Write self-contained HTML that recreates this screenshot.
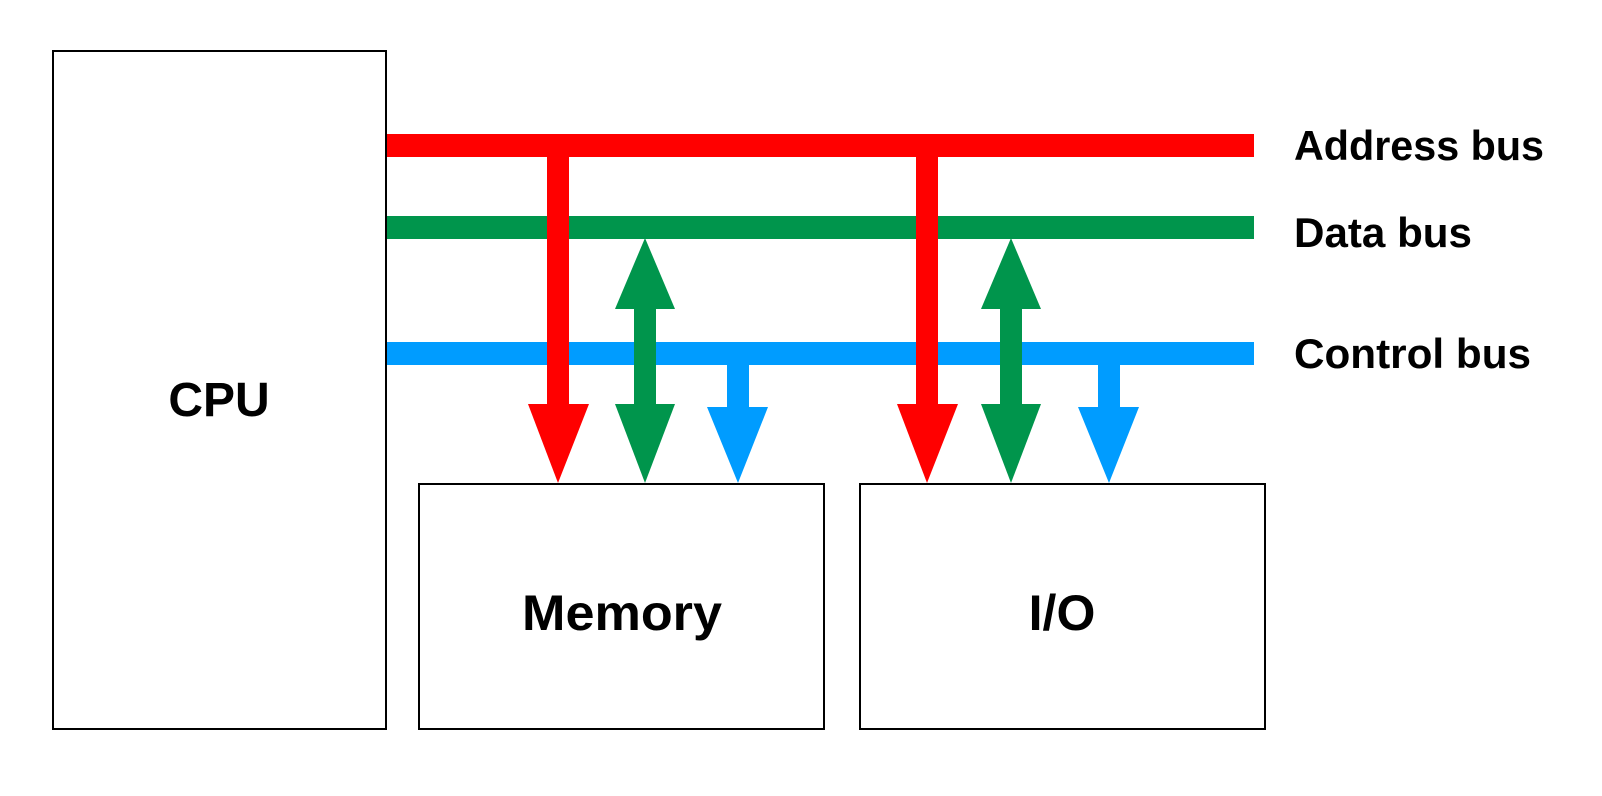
<!DOCTYPE html>
<html><head><meta charset="utf-8"><style>
html,body{margin:0;padding:0;background:#fff;}
svg{display:block;}
text{font-family:"Liberation Sans",sans-serif;font-weight:bold;fill:#000;}
</style></head><body>
<svg width="1602" height="796" viewBox="0 0 1602 796">
<rect x="53" y="51" width="333" height="678" fill="#fff" stroke="#000" stroke-width="2"/>
<rect x="419" y="484" width="405" height="245" fill="#fff" stroke="#000" stroke-width="2"/>
<rect x="860" y="484" width="405" height="245" fill="#fff" stroke="#000" stroke-width="2"/>
<text x="219" y="416" font-size="48" text-anchor="middle">CPU</text>
<text x="622" y="630" font-size="50" text-anchor="middle" textLength="200" lengthAdjust="spacingAndGlyphs">Memory</text>
<text x="1062" y="630" font-size="50" text-anchor="middle">I/O</text>
<!-- buses -->
<rect x="387" y="134" width="867" height="23" fill="#ff0000"/>
<rect x="387" y="216" width="867" height="23" fill="#00954c"/>
<rect x="387" y="342" width="867" height="23" fill="#009cff"/>
<text x="1294" y="160" font-size="42" textLength="250" lengthAdjust="spacingAndGlyphs">Address bus</text>
<text x="1294" y="247" font-size="42" textLength="178" lengthAdjust="spacingAndGlyphs">Data bus</text>
<text x="1294" y="368" font-size="42" textLength="237" lengthAdjust="spacingAndGlyphs">Control bus</text>
<!-- memory arrows -->
<g>
<rect x="547" y="150" width="22" height="255" fill="#ff0000"/>
<polygon points="528,404 589,404 558,483" fill="#ff0000"/>
<rect x="634" y="300" width="22" height="110" fill="#00954c"/>
<polygon points="615,309 675,309 645,238" fill="#00954c"/>
<polygon points="615,404 675,404 645,483" fill="#00954c"/>
<rect x="727" y="360" width="22" height="50" fill="#009cff"/>
<polygon points="707,407 768,407 738,483" fill="#009cff"/>
</g>
<g transform="translate(369,0)">
<rect x="547" y="150" width="22" height="255" fill="#ff0000"/>
<polygon points="528,404 589,404 558,483" fill="#ff0000"/>
</g>
<g transform="translate(366,0)">
<rect x="634" y="300" width="22" height="110" fill="#00954c"/>
<polygon points="615,309 675,309 645,238" fill="#00954c"/>
<polygon points="615,404 675,404 645,483" fill="#00954c"/>
</g>
<g transform="translate(371,0)">
<rect x="727" y="360" width="22" height="50" fill="#009cff"/>
<polygon points="707,407 768,407 738,483" fill="#009cff"/>
</g>
</svg>
</body></html>
